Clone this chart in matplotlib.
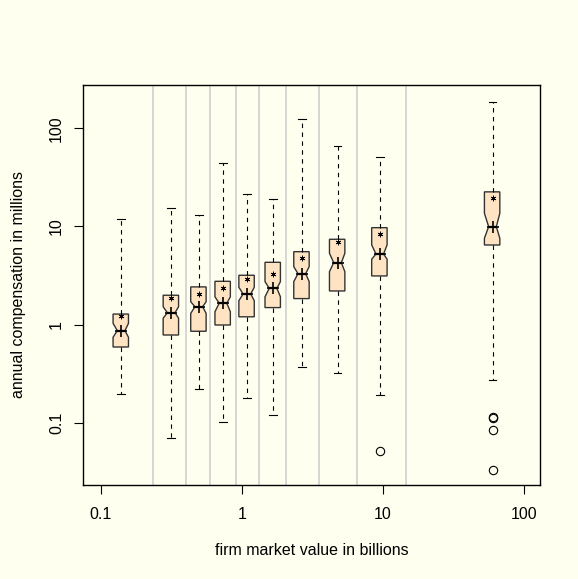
import matplotlib
matplotlib.use("Agg")
import matplotlib.pyplot as plt
import numpy as np

plt.rcParams['font.family'] = ['Liberation Sans', 'DejaVu Sans']

# box centres (firm market value, billions) and bin boundaries
positions = [0.140, 0.317, 0.497, 0.738, 1.09, 1.67, 2.67, 4.78, 9.52, 59.9]
breaks = [0.236, 0.402, 0.591, 0.907, 1.334, 2.06, 3.53, 6.58, 14.6]

# compensation summaries (millions)
whislo = [0.196, 0.0704, 0.222, 0.102, 0.179, 0.121, 0.372, 0.319, 0.192, 0.272]
q1 = [0.591, 0.783, 0.855, 0.99, 1.20, 1.49, 1.84, 2.20, 3.13, 6.47]
med = [0.867, 1.32, 1.52, 1.65, 2.05, 2.34, 3.30, 4.27, 5.24, 9.95]
q3 = [1.28, 1.99, 2.42, 2.76, 3.18, 4.31, 5.53, 7.40, 9.71, 22.5]
whishi = [11.9, 15.5, 13.0, 44.0, 21.4, 19.05, 123.7, 66.6, 50.7, 187]
means = [1.22, 1.88, 2.04, 2.38, 2.94, 3.28, 4.74, 7.0, 8.32, 19.5]
cilo = [0.742, 1.16, 1.30, 1.35, 1.75, 1.92, 2.74, 3.46, 4.63, 7.57]
cihi = [1.03, 1.52, 1.71, 1.92, 2.40, 2.74, 3.89, 5.33, 6.48, 13.6]
fliers = [[], [], [], [], [], [], [], [], [0.0515], [0.114, 0.111, 0.0837, 0.033]]

bg = '#FFFFF0'
fig = plt.figure(figsize=(5.78, 5.79), dpi=100, facecolor=bg)
ax = fig.add_axes([83/578, 1 - 485/579, 457/578, 400/579], facecolor=bg)
ax.set_xscale('log')
ax.set_yscale('log')

for b in breaks:
    ax.axvline(b, color='#D0D0D0', lw=1.2, zorder=1)

stats = []
for i in range(len(positions)):
    stats.append(dict(whislo=whislo[i], q1=q1[i], med=med[i], q3=q3[i],
                      whishi=whishi[i], mean=means[i], cilo=cilo[i],
                      cihi=cihi[i], fliers=fliers[i]))

# constant width on the log axis
widths = [0.25 * p for p in positions]
ax.bxp(stats, positions=positions, widths=widths, shownotches=True,
       showmeans=True, patch_artist=True, manage_ticks=False, zorder=3,
       boxprops=dict(facecolor='#FFE4C4', edgecolor='#333333', lw=1),
       whiskerprops=dict(color='black', lw=0.8, linestyle=(0, (4, 4))),
       capprops=dict(color='black', lw=0.8),
       medianprops=dict(color='black', lw=1.6),
       meanprops=dict(marker=(6, 2, 0), markersize=4, markeredgecolor='black',
                      markeredgewidth=0.6, linestyle='none'),
       flierprops=dict(marker='o', markersize=6, markerfacecolor='none',
                       markeredgecolor='black', markeredgewidth=0.8))
ax.plot(positions, med, linestyle='none', marker='+', markersize=9,
        markeredgewidth=1.2, color='black', zorder=4)

ax.set_xlim(0.0750, 129.8)
ax.set_ylim(0.0232, 276)
ax.set_xticks([0.1, 1, 10, 100])
ax.set_xticklabels(['0.1', '1', '10', '100'])
ax.set_yticks([0.1, 1, 10, 100])
ax.set_yticklabels(['0.1', '1', '10', '100'])
ax.minorticks_off()
ax.tick_params(axis='both', length=6.5, width=0.8, labelsize=11.5, color='black')
ax.tick_params(axis='x', pad=9.5)
ax.tick_params(axis='y', pad=7)
for lab in ax.get_yticklabels():
    lab.set_rotation(90)
    lab.set_va('center')
for s in ax.spines.values():
    s.set_linewidth(1)

ax.set_xlabel('firm market value in billions', fontsize=11.5)
ax.set_ylabel('annual compensation in millions', fontsize=11.5)
ax.xaxis.set_label_coords(0.5, -0.145)
ax.yaxis.set_label_coords(-0.1247, 0.5)

fig.savefig('out.png', dpi=100, facecolor=bg)
